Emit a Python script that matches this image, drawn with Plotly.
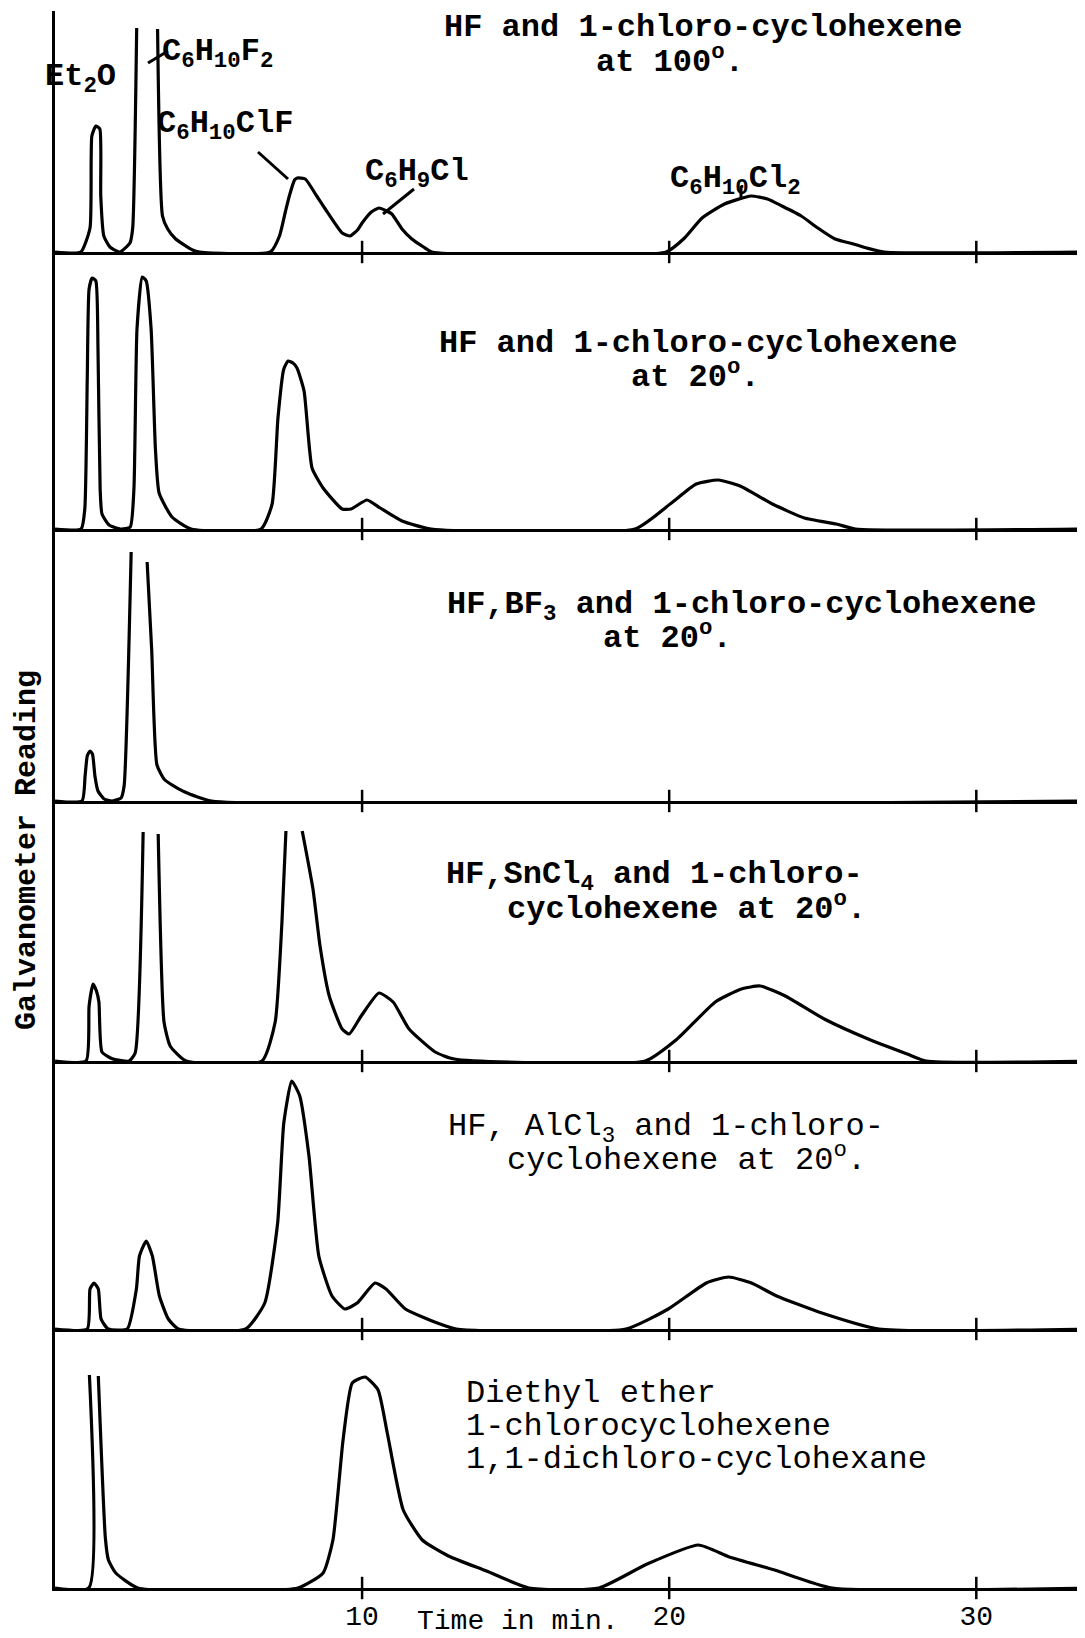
import plotly.graph_objects as go
from plotly.subplots import make_subplots

# ---------------- data: time (min) vs galvanometer reading (arb. units) ----------------
# None marks a break where a peak runs off scale (truncated top)
p1_t = [0, 0.84, 1.14, 1.20, 1.33, 1.46, 1.49, 1.59, 1.79, 2.11, 2.44, 2.53, 2.66, None, 3.34, 3.50, 3.67,
        3.93, 4.48, 4.71, 7.01, 7.31, 7.50, 7.63, 7.80, 7.89, 8.15, 8.50, 8.80, 9.35, 9.61, 9.85, 10.00,
        10.30, 10.55, 10.80, 10.97, 11.30, 11.62, 12.00, 12.27, 19.90, 20.50, 21.07, 21.80, 22.66, 23.20,
        23.67, 24.30, 24.84, 25.40, 26.00, 26.43, 27.00, 33.8]
p1_y = [0, 0, 24, 116, 126, 123, 56, 16, 5, 0, 9, 24, 224, None, 223, 36, 23,
        13, 2, 0, 0, 16, 40, 56, 72, 74, 73, 57, 43, 19, 16, 22, 29,
        40, 44, 41, 38, 23, 13, 5, 0, 0, 14, 34, 48, 56, 53,
        46, 36, 24, 13, 8, 4, 0, 0]

p2_t = [0, 0.85, 0.97, 1.05, 1.11, 1.21, 1.33, 1.40, 1.47, 1.53, 1.76, 2.15, 2.45, 2.57, 2.67, 2.84, 2.97,
        3.13, 3.27, 3.39, 3.81, 4.43, 6.71, 7.07, 7.26, 7.45, 7.59, 7.75, 7.88, 8.11, 8.37, 8.73, 9.35,
        9.64, 10.16, 10.59, 11.30, 12.25, 18.89, 20.03, 20.88, 21.60, 22.31, 23.36, 24.40, 25.44, 26.06, 33.8]
p2_y = [0, 0, 20, 150, 240, 251, 248, 180, 40, 15, 4, 0, 2, 40, 200, 252, 248,
        200, 80, 36, 12, 0, 0, 25, 111, 160, 168, 166, 161, 138, 61, 41, 20,
        20, 29, 21, 8, 0, 0, 25, 45, 49, 43, 25, 11, 5, 0, 0]

p3_t = [0, 0.88, 0.98, 1.05, 1.14, 1.22, 1.30, 1.40, 1.60, 1.86, 2.15, 2.25, 2.48, None, 3.00, 3.15, 3.32,
        3.58, 4.23, 5.10, 33.8]
p3_y = [0, 0, 25, 45, 50, 47, 25, 10, 2, 0, 3, 15, 249, None, 239, 150, 36,
        21, 9, 0, 0]

p4_t = [0, 1.01, 1.11, 1.24, 1.35, 1.43, 1.53, 1.89, 2.41, 2.61, 2.87, None, 3.36, 3.55, 3.75, 4.27, 6.74,
        7.17, 7.39, 7.52, None, 8.05, 8.40, 8.63, 8.93, 9.35, 9.58, 9.97, 10.55, 11.01, 11.53, 12.38, 13.00,
        19.22, 20.26, 21.50, 22.35, 22.96, 23.78, 25.05, 26.48, 27.75, 28.37, 33.8]
p4_y = [0, 0, 55, 77, 70, 59, 9, 2, 0, 8, 229, None, 227, 39, 15, 0, 0,
        39, 139, 230, None, 230, 172, 115, 65, 32, 27, 45, 68, 59, 32, 9, 2,
        0, 22, 59, 72, 75, 65, 42, 22, 7, 0, 0]

p5_t = [0, 1.05, 1.14, 1.27, 1.41, 1.50, 1.73, 2.35, 2.65, 2.75, 2.97, 3.17, 3.40, 3.69, 4.02, 6.21, 6.83,
        7.25, 7.45, 7.71, 7.97, 8.27, 8.59, 9.02, 9.44, 9.84, 10.42, 10.78, 11.41, 12.45, 13.07, 18.59,
        19.97, 21.21, 21.93, 22.68, 23.50, 24.97, 26.83, 33.8]
p5_y = [0, 0, 40, 46, 40, 10, 0, 0, 40, 73, 88, 73, 33, 10, 0, 0, 26,
        106, 206, 248, 233, 173, 73, 33, 20, 26, 46, 40, 20, 6, 0, 0,
        20, 46, 52, 46, 33, 16, 0, 0]

p6_t = [0, 1.10, 1.12, None, 1.41, 1.64, 1.74, 1.98, 2.70, 7.91, 8.73, 9.05, 9.38, 9.68, 10.10, 10.52,
        10.82, 11.34, 11.96, 12.81, 14.05, 15.43, 17.71, 19.28, 20.95, 21.96, 23.43, 25.30, 33.8]
p6_y = [0, 0, 213, None, 212, 50, 28, 15, 0, 0, 15, 48, 148, 205, 211, 198,
        155, 78, 48, 32, 17, 0, 0, 24, 43, 31, 18, 0, 0]

tick_minutes = [10, 20, 30]
tick_labels = ["10", "20", "30"]

panels_t = [p1_t, p2_t, p3_t, p4_t, p5_t, p6_t]
panels_y = [p1_y, p2_y, p3_y, p4_y, p5_y, p6_y]
for a, b in zip(panels_t, panels_y):
    assert len(a) == len(b)

# ---------------- layout geometry (pixels) ----------------
W, H = 1085, 1638
L, R, T, B = 47, 0, 3, 58
PW = W - L - R
PH = H - T - B
BASE = H - B
panel_px = [241, 277, 272, 260, 268, 259]  # panel heights, top to bottom
XMAX = 33.8

MONO = "Liberation Mono, Courier New, monospace"


def ax(px):
    return (px - L) / PW


def ay(py):
    return (BASE - py) / PH


fig = make_subplots(rows=6, cols=1, shared_xaxes=True, vertical_spacing=0,
                    row_heights=panel_px)

for i in range(6):
    r = i + 1
    fig.add_trace(go.Scatter(x=panels_t[i], y=panels_y[i], mode="lines", connectgaps=False,
                             line=dict(color="black", width=3.2, shape="spline", smoothing=0.5),
                             hoverinfo="skip", showlegend=False), row=r, col=1)
    fig.add_trace(go.Scatter(x=tick_minutes, y=[0] * len(tick_minutes), mode="markers",
                             marker=dict(symbol="line-ns", size=16, color="black",
                                         line=dict(width=2.5, color="black")),
                             cliponaxis=False, hoverinfo="skip", showlegend=False), row=r, col=1)
    fig.update_yaxes(range=[0, panel_px[i]], showline=True, linecolor="black", linewidth=3,
                     showgrid=False, zeroline=False, showticklabels=False, ticks="",
                     row=r, col=1)
    fig.update_xaxes(range=[0, XMAX], showline=True, linecolor="black", linewidth=3,
                     showgrid=False, zeroline=False, ticks="",
                     showticklabels=(r == 6), row=r, col=1)

fig.update_xaxes(tickvals=tick_minutes, ticktext=tick_labels,
                 tickfont=dict(family=MONO, size=28, color="black"),
                 ticklabelstandoff=0, row=6, col=1)

# ---------------- texts ----------------
captions = [
    ("HF and 1-chloro-cyclohexene", 434, 19, True),
    ("at 100<sup>o</sup>.", 586, 52, True),
    ("HF and 1-chloro-cyclohexene", 429, 335, True),
    ("at 20<sup>o</sup>.", 621, 367, True),
    ("HF,BF<sub>3</sub> and 1-chloro-cyclohexene", 437, 598, True),
    ("at 20<sup>o</sup>.", 593, 628, True),
    ("HF,SnCl<sub>4</sub> and 1-chloro-", 436, 868, True),
    ("cyclohexene at 20<sup>o</sup>.", 497, 899, True),
    ("HF, AlCl<sub>3</sub> and 1-chloro-", 438, 1121, False),
    ("cyclohexene at 20<sup>o</sup>.", 497, 1150, False),
    ("Diethyl ether", 456, 1385, False),
    ("1-chlorocyclohexene", 456, 1418, False),
    ("1,1-dichloro-cyclohexane", 456, 1451, False),
    ("Et<sub>2</sub>O", 35, 71, True),
    ("C<sub>6</sub>H<sub>10</sub>F<sub>2</sub>", 152, 46, True),
    ("C<sub>6</sub>H<sub>10</sub>ClF", 147, 117, True),
    ("C<sub>6</sub>H<sub>9</sub>Cl", 355, 166, True),
    ("C<sub>6</sub>H<sub>10</sub>Cl<sub>2</sub>", 660, 173, True),
]
annotations = []
for text, px, py, bold in captions:
    annotations.append(dict(text=text, x=ax(px), y=ay(py), xref="paper", yref="paper",
                            xanchor="left", yanchor="middle", showarrow=False,
                            font=dict(family=MONO, size=32, color="black",
                                      weight="bold" if bold else "normal")))

annotations.append(dict(text="Galvanometer Reading", x=ax(19), y=ay(842), xref="paper", yref="paper",
                        xanchor="center", yanchor="middle", showarrow=False, textangle=-90,
                        font=dict(family=MONO, size=30, color="black", weight="bold")))
annotations.append(dict(text="Time in min.", x=ax(510), y=ay(1613), xref="paper", yref="paper",
                        xanchor="center", yanchor="middle", showarrow=False,
                        font=dict(family=MONO, size=28, color="black")))

leaders = [((140, 55), (160, 43)), ((250, 144), (280, 171)), ((375, 206), (406, 181)),
           ((733, 178), (733, 191))]
shapes = []
for (x0, y0), (x1, y1) in leaders:
    shapes.append(dict(type="line", xref="paper", yref="paper", x0=ax(x0), y0=ay(y0),
                       x1=ax(x1), y1=ay(y1), line=dict(color="black", width=3)))

fig.update_layout(width=W, height=H, margin=dict(l=L, r=R, t=T, b=B),
                  paper_bgcolor="white", plot_bgcolor="white", showlegend=False,
                  annotations=annotations, shapes=shapes)

fig.write_html("out.html")
